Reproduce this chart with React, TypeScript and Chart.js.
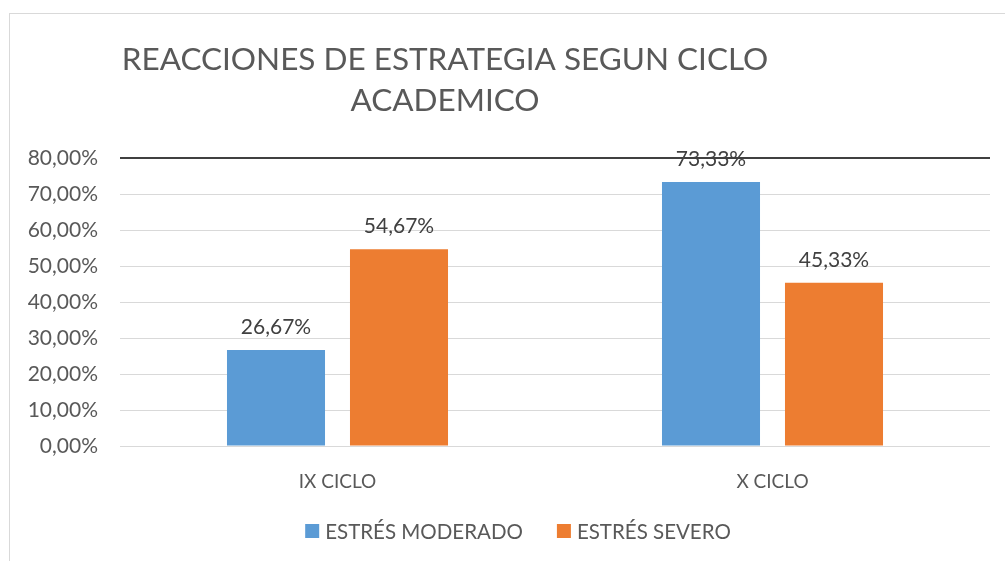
import React, { useEffect, useRef } from "react";
import { Chart, registerables } from "chart.js";

Chart.register(...registerables);

const categories = ["IX CICLO", "X CICLO"];
const seriesNames = ["ESTRÉS MODERADO", "ESTRÉS SEVERO"];
const moderado = [26.67, 73.33];
const severo = [54.67, 45.33];
const titleLines = ["REACCIONES DE ESTRATEGIA SEGUN CICLO", "ACADEMICO"];
const yMin = 0;
const yMax = 80;
const yStep = 10;

const FONT = "Lato, 'Noto Sans', sans-serif";
const fmt = (v: number) => v.toFixed(2).replace(".", ",") + "%";

const framePlugin = {
  id: "frame",
  beforeDraw(chart: any) {
    const ctx = chart.ctx;
    ctx.save();
    ctx.fillStyle = "#ffffff";
    ctx.fillRect(0, 0, chart.width, chart.height);
    ctx.strokeStyle = "#d9d9d9";
    ctx.lineWidth = 1;
    ctx.strokeRect(9.5, 13.5, chart.width + 20, chart.height + 20);
    ctx.restore();
  },
};

const titlePlugin = {
  id: "customTitle",
  afterDraw(chart: any) {
    const ctx = chart.ctx;
    ctx.save();
    ctx.fillStyle = "#595959";
    ctx.font = `31.5px ${FONT}`;
    ctx.textAlign = "center";
    ctx.textBaseline = "middle";
    ctx.fillText(titleLines[0], 445, 60);
    ctx.fillText(titleLines[1], 445, 101);
    ctx.restore();
  },
};

const legendPlugin = {
  id: "customLegend",
  afterDraw(chart: any) {
    const ctx = chart.ctx;
    ctx.save();
    ctx.font = `20.5px ${FONT}`;
    ctx.textBaseline = "middle";
    ctx.textAlign = "left";
    const box = 14;
    const gap = 6;
    const itemGap = 34;
    const items = chart.data.datasets.map((ds: any) => ({
      label: ds.label,
      color: ds.backgroundColor,
      w: box + gap + ctx.measureText(ds.label).width,
    }));
    const total = items.reduce((a: number, it: any) => a + it.w, 0) + itemGap * (items.length - 1);
    let x = 518 - total / 2;
    const y = 531;
    items.forEach((it: any) => {
      ctx.fillStyle = it.color;
      ctx.fillRect(x, y - box / 2, box, box);
      ctx.fillStyle = "#595959";
      ctx.fillText(it.label, x + box + gap, y + 1);
      x += it.w + itemGap;
    });
    ctx.restore();
  },
};

const labelsPlugin = {
  id: "valueLabels",
  afterDatasetsDraw(chart: any) {
    const ctx = chart.ctx;
    ctx.save();
    ctx.fillStyle = "#404040";
    ctx.font = `21px ${FONT}`;
    ctx.textAlign = "center";
    ctx.textBaseline = "middle";
    chart.data.datasets.forEach((ds: any, i: number) => {
      const meta = chart.getDatasetMeta(i);
      meta.data.forEach((el: any, j: number) => {
        ctx.fillText(fmt(ds.data[j]), el.x, el.y - 23);
      });
    });
    ctx.restore();
  },
};

export default function App() {
  const ref = useRef<HTMLCanvasElement | null>(null);
  useEffect(() => {
    document.body.style.margin = "0";
    if (!ref.current) return;
    const chart = new Chart(ref.current, {
      type: "bar",
      data: {
        labels: categories,
        datasets: [
          {
            label: seriesNames[0],
            data: moderado,
            backgroundColor: "#5B9BD5",
            categoryPercentage: 0.5655,
            barPercentage: 0.797,
          },
          {
            label: seriesNames[1],
            data: severo,
            backgroundColor: "#ED7D31",
            categoryPercentage: 0.5655,
            barPercentage: 0.797,
          },
        ],
      },
      options: {
        animation: false,
        responsive: false,
        maintainAspectRatio: false,
        layout: { padding: { top: 158, bottom: 55, left: 0, right: 15 } },
        plugins: {
          legend: { display: false },
          title: { display: false },
          tooltip: { enabled: false },
        },
        scales: {
          x: {
            grid: { display: false, drawTicks: false },
            border: { display: false },
            ticks: {
              color: "#595959",
              font: { family: FONT, size: 19 },
              padding: 24,
            },
            afterFit: (s: any) => {
              s.height = 60;
            },
          },
          y: {
            min: yMin,
            max: yMax,
            border: { display: false },
            grid: {
              drawTicks: false,
              color: (c: any) => (c.tick && c.tick.value === yMax ? "#404040" : "#d9d9d9"),
              lineWidth: (c: any) => (c.tick && c.tick.value === yMax ? 2 : 1),
            },
            ticks: {
              stepSize: yStep,
              color: "#595959",
              font: { family: FONT, size: 21 },
              padding: 22,
              callback: (v: any) => fmt(Number(v)),
            },
            afterFit: (s: any) => {
              s.width = 120;
            },
          },
        },
      },
      plugins: [framePlugin, titlePlugin, labelsPlugin, legendPlugin],
    });
    return () => chart.destroy();
  }, []);
  return (
    <div style={{ width: 1005, height: 561, overflow: "hidden" }}>
      <canvas ref={ref} width={1005} height={561} style={{ display: "block" }} />
    </div>
  );
}
